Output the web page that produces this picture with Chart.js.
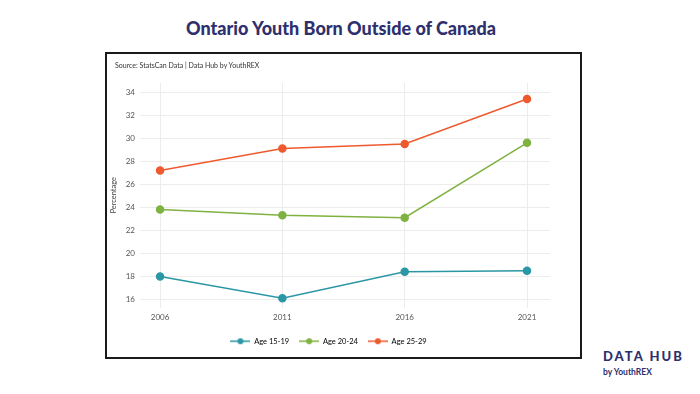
<!DOCTYPE html>
<html>
<head>
<meta charset="utf-8">
<script src="https://cdn.jsdelivr.net/npm/chart.js@4/dist/chart.umd.min.js"></script>
<style>
  html, body { margin: 0; padding: 0; background: #fff; width: 700px; height: 394px; overflow: hidden; font-family: Lato, "Open Sans", sans-serif; }
  #title { position: absolute; left: 0; width: 682px; top: 17px; text-align: center; font-weight: 900; font-size: 18px; color: #2e2f6d; }
  #box { position: absolute; left: 105px; top: 52px; width: 473px; height: 303px; border: 2px solid #1a1a1a; }
  #source { position: absolute; left: 8px; top: 7px; font-size: 7px; color: #333; }
  #wrap { position: absolute; left: 0; top: 0; width: 473px; height: 303px; }
  #logo { position: absolute; left: 603px; top: 349px; color: #2e2f6d; }
  #logo .a { font-weight: 900; font-size: 13px; letter-spacing: 2px; line-height: 14px; }
  #logo .b { font-weight: 700; font-size: 8.5px; line-height: 10px; margin-top: 4px; }
</style>
</head>
<body>
<div id="title">Ontario Youth Born Outside of Canada</div>
<div id="box">
  <div id="wrap"><canvas id="c" width="473" height="303"></canvas></div>
  <div id="source">Source: StatsCan Data | Data Hub by YouthREX</div>
</div>
<div id="logo"><div class="a">DATA HUB</div><div class="b">by YouthREX</div></div>
<script>
const years = [2006, 2011, 2016, 2021];
const seriesNames = ["Age 15-19", "Age 20-24", "Age 25-29"];
const age15_19 = [18.0, 16.1, 18.4, 18.5];
const age20_24 = [23.8, 23.3, 23.1, 29.6];
const age25_29 = [27.2, 29.1, 29.5, 33.4];
const yTicks = [16, 18, 20, 22, 24, 26, 28, 30, 32, 34];
const colors = ["#2b97a5", "#7fb241", "#ee5a2e"];

function legendIcon(color) {
  const cv = document.createElement('canvas');
  cv.width = 20; cv.height = 8;
  const g = cv.getContext('2d');
  g.strokeStyle = color; g.lineWidth = 1.5;
  g.beginPath(); g.moveTo(0, 4); g.lineTo(20, 4); g.stroke();
  g.fillStyle = color; g.beginPath(); g.arc(10, 4, 3, 0, Math.PI * 2); g.fill();
  return cv;
}

const allSeries = [age15_19, age20_24, age25_29];
const datasets = allSeries.map((s, i) => ({
  label: seriesNames[i],
  data: years.map((y, j) => ({ x: y, y: s[j] })),
  borderColor: colors[i],
  backgroundColor: colors[i],
  borderWidth: 1.5,
  pointRadius: 3.5,
  pointHoverRadius: 3.5,
  tension: 0
}));

new Chart(document.getElementById('c'), {
  type: 'line',
  data: { datasets },
  options: {
    responsive: false,
    animation: false,
    layout: { padding: { top: 29, right: 30, left: 0, bottom: 2 } },
    plugins: {
      tooltip: { enabled: false },
      legend: {
        position: 'bottom',
        labels: {
          usePointStyle: true,
          pointStyleWidth: 20,
          color: '#444',
          font: { family: 'Lato', size: 7.5 },
          boxWidth: 20, boxHeight: 8,
          padding: 10,
          generateLabels: (chart) => chart.data.datasets.map((d, i) => ({
            text: d.label, fillStyle: d.borderColor, strokeStyle: d.borderColor,
            pointStyle: legendIcon(d.borderColor), datasetIndex: i, hidden: false, lineWidth: 0
          }))
        }
      }
    },
    scales: {
      x: {
        type: 'linear',
        min: 2005.18, max: 2021.94,
        afterBuildTicks: (s) => { s.ticks = years.map(v => ({ value: v })); },
        afterFit: (s) => { s.height = 20; },
        grid: { color: '#ececec', drawTicks: false },
        border: { display: false },
        ticks: { color: '#555', font: { family: 'Lato', size: 8 }, padding: 5, callback: v => String(v) }
      },
      y: {
        min: 15.3, max: 34.79,
        afterBuildTicks: (s) => { s.ticks = yTicks.map(v => ({ value: v })); },
        afterFit: (s) => { s.width = 33; },
        grid: { color: '#ececec', drawTicks: false },
        border: { display: false },
        title: { display: true, text: 'Percentage', color: '#444', font: { family: 'Lato', size: 7.5 }, padding: { top: 2, bottom: 0 } },
        ticks: { color: '#555', font: { family: 'Lato', size: 8 }, padding: 5 }
      }
    }
  }
});
</script>
</body>
</html>
